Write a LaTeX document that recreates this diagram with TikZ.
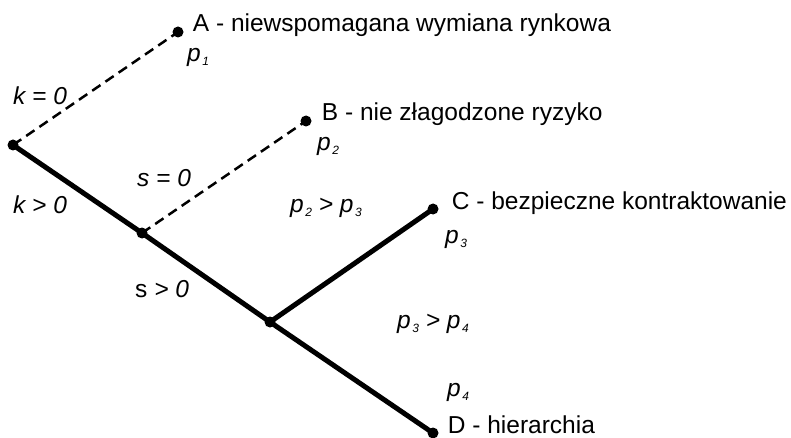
\documentclass[tikz,border=0pt]{standalone}
\usepackage{fontspec}
\setmainfont{Liberation Sans}
\usetikzlibrary{positioning}

\newcommand{\pr}[1]{\textit{p}\kern1.5pt\raisebox{-4pt}{\fontsize{12}{12}\selectfont\itshape #1}}

\begin{document}
\begin{tikzpicture}[x=1pt,y=-1pt,font=\fontsize{24.5}{28}\selectfont]
  \tikzstyle{dot}=[circle,fill,inner sep=0pt,minimum size=11pt]
  \tikzstyle{leaf}=[inner sep=0pt,anchor=base west]
  \tikzstyle{cond}=[inner sep=0pt,anchor=base west,font=\fontsize{24.5}{28}\selectfont\itshape]
  \tikzstyle{yes}=[line width=5pt]
  \tikzstyle{no}=[line width=2.5pt,dash pattern=on 10pt off 6pt]
  \useasboundingbox (0,0) rectangle (791,438);
  % decision points and outcomes
  \node[dot] (root) at (13,145) {};
  \node[dot] (mid) at (142,233) {};
  \node[dot] (low) at (270,322) {};
  \node[dot] (a) at (178,32) {};
  \node[dot] (b) at (306,121) {};
  \node[dot] (c) at (433,209) {};
  \node[dot] (d) at (433,433) {};
  \draw[no] (root.center) -- (a.center);
  \draw[yes] (root.center) -- (mid.center) -- (low.center) -- (d.center);
  \draw[no] (mid.center) -- (b.center);
  \draw[yes] (low.center) -- (c.center);
  % outcome names
  \node[leaf,right=9pt of a,anchor=base west] (ta) {A - niewspomagana wymiana rynkowa};
  \node[leaf,right=10pt of b,anchor=base west] (tb) {B - nie złagodzone ryzyko};
  \node[leaf,right=13pt of c,anchor=base west] (tc) {C - bezpieczne kontraktowanie};
  \node[leaf,right=9pt of d,anchor=base west] (td) {D - hierarchia};
  % probabilities
  \node[cond] (p1) at (187,62) {\pr{1}};
  \node[cond] (p2) at (317,151) {\pr{2}};
  \node[cond] (p3) at (445,243) {\pr{3}};
  \node[cond] (p4) at (447,396) {\pr{4}};
  \node[cond] (p23) at (290,212) {\pr{2} > \pr{3}};
  \node[cond] (p34) at (397,328) {\pr{3} > \pr{4}};
  % branch conditions
  \node[cond] (k0) at (13,105) {k = 0};
  \node[cond] (k1) at (13,213) {k > 0};
  \node[cond] (s0) at (137,187) {s = 0};
  \node[cond] (s1) at (135,297) {\upshape s \itshape > 0};
\end{tikzpicture}
\end{document}
